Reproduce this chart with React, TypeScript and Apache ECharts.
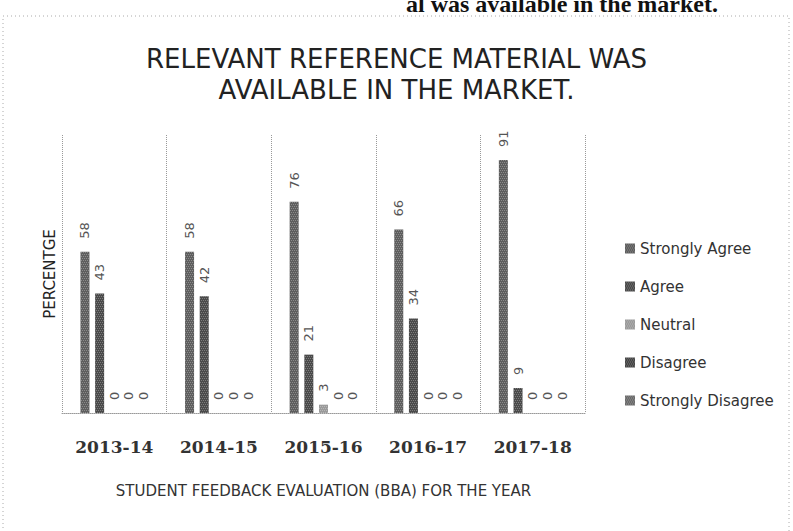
import React, { useEffect, useRef } from "react";
import * as echarts from "echarts";

const years = ["2013-14", "2014-15", "2015-16", "2016-17", "2017-18"];
const seriesNames = ["Strongly Agree", "Agree", "Neutral", "Disagree", "Strongly Disagree"];
const stronglyAgree = [58, 58, 76, 66, 91];
const agree = [43, 42, 21, 34, 9];
const neutral = [0, 0, 3, 0, 0];
const disagree = [0, 0, 0, 0, 0];
const stronglyDisagree = [0, 0, 0, 0, 0];
const seriesValues = [stronglyAgree, agree, neutral, disagree, stronglyDisagree];
const seriesColors = ["#5e5e5e", "#4a4a4a", "#9a9a9a", "#454545", "#6a6a6a"];
const titleLines = ["RELEVANT REFERENCE MATERIAL WAS", "AVAILABLE IN THE MARKET."];
const yAxisName = "PERCENTGE";
const xAxisName = "STUDENT FEEDBACK EVALUATION (BBA) FOR THE YEAR";
const headerFragment = "al was available in the market.";

const SANS = "'DejaVu Sans', 'Open Sans', sans-serif";

export default function App() {
  const ref = useRef<HTMLDivElement>(null);
  useEffect(() => {
    document.body.style.margin = "0";
    if (!ref.current) return;
    const chart = echarts.init(ref.current, null, { renderer: "svg" });
    const decal = {
      symbol: "rect",
      symbolSize: 1,
      dashArrayX: [[1, 1], [0, 1, 1, 0]],
      dashArrayY: [1, 1],
      color: "rgba(255,255,255,0.28)",
    };
    chart.setOption({
      animation: false,
      backgroundColor: "#ffffff",
      title: {
        text: titleLines.join("\n"),
        left: "center",
        top: 38,
        textStyle: {
          fontFamily: SANS,
          fontSize: 26,
          fontWeight: "normal",
          color: "#222",
          lineHeight: 31,
        },
      },
      graphic: [
        {
          type: "rect",
          shape: { x: 3, y: 16, width: 786, height: 530 },
          style: { fill: "none", stroke: "#aaa", lineWidth: 1, lineDash: [1, 3] },
          silent: true,
        },
        {
          type: "text",
          right: 75,
          top: -8,
          style: {
            text: headerFragment,
            font: "bold 24px 'Liberation Serif', 'DejaVu Serif', serif",
            fill: "#111",
          },
          silent: true,
        },
      ],
      legend: {
        orient: "vertical",
        left: 620,
        top: 236,
        itemWidth: 10,
        itemHeight: 10,
        itemGap: 23,
        icon: "rect",
        data: seriesNames,
        textStyle: { fontFamily: SANS, fontSize: 15, color: "#333" },
      },
      grid: { left: 62, right: 208, top: 135, bottom: 118 },
      xAxis: {
        type: "category",
        data: years,
        name: xAxisName,
        nameLocation: "middle",
        nameGap: 70,
        nameTextStyle: { fontFamily: SANS, fontSize: 15, color: "#333" },
        axisLine: { show: true, lineStyle: { color: "#999", type: "dotted" } },
        axisTick: { show: false },
        splitLine: { show: true, lineStyle: { color: "#999", type: "dotted" } },
        axisLabel: {
          margin: 25,
          fontFamily: "'DejaVu Serif', serif",
          fontSize: 17,
          fontWeight: "bold",
          color: "#333",
        },
      },
      yAxis: {
        type: "value",
        min: 0,
        max: 100,
        name: yAxisName,
        nameLocation: "middle",
        nameGap: 5,
        nameTextStyle: { fontFamily: SANS, fontSize: 15, color: "#222" },
        axisLine: { show: false },
        axisTick: { show: false },
        axisLabel: { show: false },
        splitLine: { show: false },
      },
      series: seriesNames.map((name, i) => ({
        name,
        type: "bar",
        data: seriesValues[i],
        barWidth: 9,
        barGap: "63%",
        itemStyle: { color: seriesColors[i], decal },
        label: {
          show: true,
          position: "top",
          rotate: 90,
          align: "left",
          verticalAlign: "middle",
          distance: 13,
          fontFamily: SANS,
          fontSize: 13,
          color: "#555",
        },
      })),
    });
    return () => chart.dispose();
  }, []);
  return <div ref={ref} style={{ width: 793, height: 531 }} />;
}
